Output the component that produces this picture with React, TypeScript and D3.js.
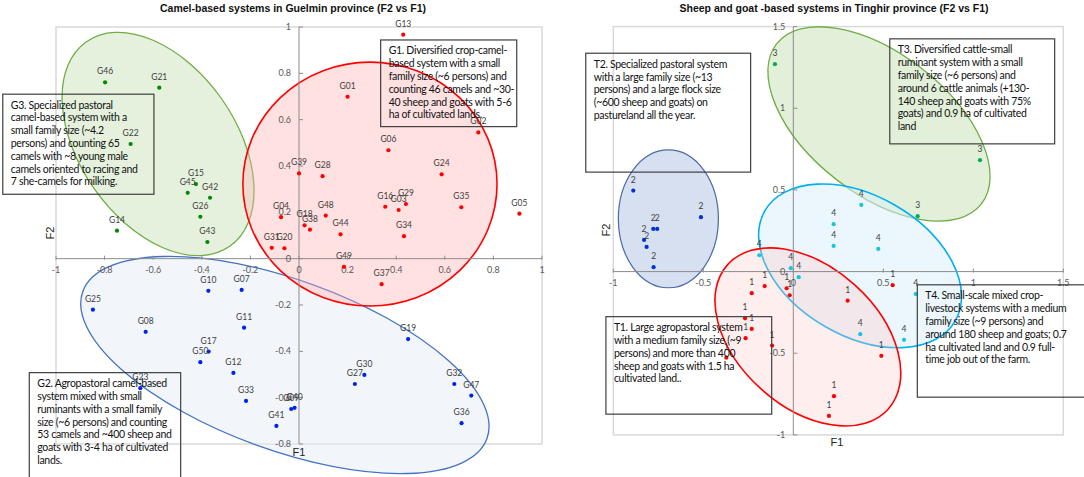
import React from 'react';
import * as d3 from 'd3';

const W = 1084;
const H = 477;

// ---------- Guelmin (left panel) ----------
const guelminTitle = 'Camel-based systems in Guelmin  province (F2 vs F1)';
const guelminXTicks = [-1, -0.8, -0.6, -0.4, -0.2, 0, 0.2, 0.4, 0.6, 0.8, 1];
const guelminYTicks = [-0.8, -0.6, -0.4, -0.2, 0, 0.2, 0.4, 0.6, 0.8, 1];

const guelminG1 = [
  { id: 'G13', f1: 0.429, f2: 0.967 },
  { id: 'G01', f1: 0.2, f2: 0.699 },
  { id: 'G02', f1: 0.738, f2: 0.545 },
  { id: 'G06', f1: 0.368, f2: 0.468 },
  { id: 'G39', f1: 0.0, f2: 0.368 },
  { id: 'G28', f1: 0.097, f2: 0.356 },
  { id: 'G24', f1: 0.587, f2: 0.364 },
  { id: 'G16', f1: 0.355, f2: 0.224 },
  { id: 'G03', f1: 0.41, f2: 0.21 },
  { id: 'G29', f1: 0.44, f2: 0.236 },
  { id: 'G35', f1: 0.668, f2: 0.222 },
  { id: 'G05', f1: 0.907, f2: 0.194 },
  { id: 'G04', f1: -0.074, f2: 0.179 },
  { id: 'G48', f1: 0.11, f2: 0.186 },
  { id: 'G18', f1: 0.023, f2: 0.144 },
  { id: 'G38', f1: 0.045, f2: 0.125 },
  { id: 'G44', f1: 0.171, f2: 0.105 },
  { id: 'G34', f1: 0.432, f2: 0.097 },
  { id: 'G31', f1: -0.112, f2: 0.047 },
  { id: 'G20', f1: -0.06, f2: 0.045 },
  { id: 'G49', f1: 0.185, f2: -0.035 },
  { id: 'G37', f1: 0.34, f2: -0.11 },
];

const guelminG2 = [
  { id: 'G10', f1: -0.373, f2: -0.139 },
  { id: 'G07', f1: -0.236, f2: -0.135 },
  { id: 'G25', f1: -0.848, f2: -0.22 },
  { id: 'G08', f1: -0.631, f2: -0.316 },
  { id: 'G11', f1: -0.226, f2: -0.298 },
  { id: 'G17', f1: -0.372, f2: -0.401 },
  { id: 'G50', f1: -0.406, f2: -0.447 },
  { id: 'G12', f1: -0.27, f2: -0.493 },
  { id: 'G23', f1: -0.653, f2: -0.559 },
  { id: 'G33', f1: -0.218, f2: -0.614 },
  { id: 'G41', f1: -0.093, f2: -0.722 },
  { id: 'G09', f1: -0.032, f2: -0.649 },
  { id: 'G40', f1: -0.018, f2: -0.644 },
  { id: 'G19', f1: 0.449, f2: -0.347 },
  { id: 'G30', f1: 0.269, f2: -0.502 },
  { id: 'G27', f1: 0.23, f2: -0.541 },
  { id: 'G32', f1: 0.639, f2: -0.541 },
  { id: 'G47', f1: 0.709, f2: -0.591 },
  { id: 'G36', f1: 0.669, f2: -0.71 },
];

const guelminG3 = [
  { id: 'G46', f1: -0.798, f2: 0.761 },
  { id: 'G21', f1: -0.575, f2: 0.738 },
  { id: 'G22', f1: -0.693, f2: 0.495 },
  { id: 'G15', f1: -0.424, f2: 0.322 },
  { id: 'G45', f1: -0.458, f2: 0.284 },
  { id: 'G42', f1: -0.366, f2: 0.263 },
  { id: 'G26', f1: -0.406, f2: 0.181 },
  { id: 'G14', f1: -0.749, f2: 0.121 },
  { id: 'G43', f1: -0.377, f2: 0.072 },
];

const guelminG1Text = [
  'G1. Diversified crop-camel-',
  'based system with a small',
  'family size (~6 persons) and',
  'counting 46 camels and ~30-',
  '40 sheep and goats with 5-6',
  'ha of cultivated lands.',
];
const guelminG2Text = [
  'G2. Agropastoral camel-based',
  'system mixed with small',
  'ruminants with a small family',
  'size (~6 persons) and counting',
  '53 camels and ~400 sheep and',
  'goats with 3-4 ha of cultivated',
  'lands.',
];
const guelminG3Text = [
  'G3. Specialized pastoral',
  'camel-based system with a',
  'small family size (~4.2',
  'persons) and counting 65',
  'camels with ~8 young male',
  'camels oriented to racing and',
  '7 she-camels for milking.',
];

// ---------- Tinghir (right panel) ----------
const tinghirTitle = 'Sheep and goat -based systems in Tinghir  province (F2 vs F1)';
const tinghirXTicks = [-1, -0.5, 0, 0.5, 1, 1.5];
const tinghirYTicks = [-1, -0.5, 0, 0.5, 1, 1.5];

const tinghirT1 = [
  { id: '1', f1: -0.159, f2: -0.089 },
  { id: '1', f1: -0.231, f2: -0.132 },
  { id: '1', f1: -0.037, f2: -0.102 },
  { id: '1', f1: -0.02, f2: -0.145 },
  { id: '1', f1: 0.302, f2: -0.178 },
  { id: '1', f1: 0.552, f2: -0.083 },
  { id: '1', f1: -0.268, f2: -0.286 },
  { id: '1', f1: -0.231, f2: -0.351 },
  { id: '1', f1: -0.265, f2: -0.408 },
  { id: '1', f1: -0.118, f2: -0.453 },
  { id: '1', f1: -0.372, f2: -0.527 },
  { id: '1', f1: 0.489, f2: -0.516 },
  { id: '1', f1: 0.226, f2: -0.763 },
  { id: '1', f1: 0.198, f2: -0.884 },
];
const tinghirT2 = [
  { id: '2', f1: -0.889, f2: 0.496 },
  { id: '2', f1: -0.513, f2: 0.333 },
  { id: '2', f1: -0.778, f2: 0.261 },
  { id: '2', f1: -0.756, f2: 0.261 },
  { id: '2', f1: -0.829, f2: 0.194 },
  { id: '2', f1: -0.815, f2: 0.151 },
  { id: '2', f1: -0.776, f2: 0.027 },
];
const tinghirT3 = [
  { id: '3', f1: -0.102, f2: 1.27 },
  { id: '3', f1: 1.037, f2: 0.682 },
  { id: '3', f1: 0.691, f2: 0.339 },
];
const tinghirT4 = [
  { id: '4', f1: 0.378, f2: 0.408 },
  { id: '4', f1: 0.224, f2: 0.29 },
  { id: '4', f1: 0.224, f2: 0.157 },
  { id: '4', f1: 0.472, f2: 0.139 },
  { id: '4', f1: -0.189, f2: 0.1 },
  { id: '4', f1: -0.014, f2: 0.021 },
  { id: '4', f1: 0.03, f2: -0.034 },
  { id: '4', f1: 0.372, f2: -0.383 },
  { id: '4', f1: 0.68, f2: -0.138 },
  { id: '4', f1: 0.615, f2: -0.418 },
];

const tinghirT1Text = [
  'T1. Large agropastoral system',
  'with a medium family size (~9',
  'persons) and more than 400',
  'sheep and goats with 1.5 ha',
  'cultivated land..',
];
const tinghirT2Text = [
  'T2. Specialized pastoral system',
  'with a large family size (~13',
  'persons) and a large flock size',
  '(~600 sheep and goats) on',
  'pastureland all the year.',
];
const tinghirT3Text = [
  'T3. Diversified cattle-small',
  'ruminant system with a small',
  'family size (~6 persons) and',
  'around 6 cattle animals (+130-',
  '140 sheep and goats with 75%',
  'goats) and 0.9 ha of cultivated',
  'land',
];
const tinghirT4Text = [
  'T4. Small-scale mixed crop-',
  'livestock systems with a medium',
  'family size (~9 persons) and',
  'around 180 sheep and goats; 0.7',
  'ha cultivated land and 0.9 full-',
  'time job out of the farm.',
];

// ---------- layout ----------
const LABEL_FONT = 'Lato, "Open Sans", sans-serif';
const TITLE_FONT = '"Liberation Sans", Arial, sans-serif';

type Pt = { id: string; f1: number; f2: number };
type Ell = { cx: number; cy: number; rx: number; ry: number; angle: number; fill: string; fillOpacity: number; stroke: string; sw: number };
type Box = { x1: number; y1: number; x2: number; y2: number; lines: string[] };

function Panel(props: {
  x: d3.ScaleLinear<number, number>;
  y: d3.ScaleLinear<number, number>;
  xTicks: number[];
  yTicks: number[];
  title: string;
  titleX: number;
  f1Pos: [number, number];
  f2Pos: [number, number];
  ellipses: Ell[];
  groups: { pts: Pt[]; color: string }[];
  boxes: Box[];
}) {
  const { x, y, xTicks, yTicks } = props;
  const [xa, xb] = x.range();
  const [yb, ya] = y.range();
  const x0 = x(0);
  const y0 = y(0);
  const k = (xb - xa) / (x.domain()[1] - x.domain()[0]);
  return (
    <g>
      <text x={props.titleX} y={12} textAnchor="middle" fontFamily={TITLE_FONT} fontWeight="bold" fontSize={10.5} fill="#111">
        {props.title}
      </text>
      <rect x={xa} y={ya} width={xb - xa} height={yb - ya} fill="none" stroke="#d9d9d9" strokeWidth={1.5} />
      {props.ellipses.map((e, i) => (
        <ellipse
          key={i}
          cx={0}
          cy={0}
          rx={e.rx * k}
          ry={e.ry * k}
          transform={`translate(${x(e.cx)},${y(e.cy)}) rotate(${e.angle})`}
          fill={e.fill}
          fillOpacity={e.fillOpacity}
          stroke={e.stroke}
          strokeWidth={e.sw}
        />
      ))}
      <line x1={xa} x2={xb} y1={y0} y2={y0} stroke="#8c8c8c" strokeWidth={1} />
      <line x1={x0} x2={x0} y1={ya} y2={yb} stroke="#8c8c8c" strokeWidth={1} />
      {xTicks.map((t) => (
        <g key={'x' + t}>
          <line x1={x(t)} x2={x(t)} y1={y0 - 3} y2={y0 + 1} stroke="#8c8c8c" />
          <text x={x(t)} y={y0 + 14} textAnchor="middle" fontFamily={LABEL_FONT} fontSize={9} fill="#595959">
            {String(t)}
          </text>
        </g>
      ))}
      {yTicks.map((t) => (
        <g key={'y' + t}>
          <line x1={x0} x2={x0 + 4} y1={y(t)} y2={y(t)} stroke="#8c8c8c" />
          <text x={x0 - 8} y={y(t) + 3} textAnchor="end" fontFamily={LABEL_FONT} fontSize={9} fill="#595959">
            {String(t)}
          </text>
        </g>
      ))}
      {props.groups.map((g, gi) => (
        <g key={gi}>
          {g.pts.map((p, i) => (
            <g key={i}>
              <circle cx={x(p.f1)} cy={y(p.f2)} r={2.1} fill={g.color} />
              <text x={x(p.f1)} y={y(p.f2) - 8} textAnchor="middle" fontFamily={LABEL_FONT} fontSize={8.5} fill="#404040">
                {p.id}
              </text>
            </g>
          ))}
        </g>
      ))}
      {props.boxes.map((b, i) => {
        const bx = x(b.x1);
        const by = y(b.y1);
        return (
          <g key={i}>
            <rect x={bx} y={by} width={x(b.x2) - bx} height={y(b.y2) - by} fill="none" stroke="#3f3f3f" strokeWidth={1.2} />
            {b.lines.map((l, j) => (
              <text key={j} x={bx + 8} y={by + 14.5 + j * 12.8} fontFamily={LABEL_FONT} fontSize={10.5} letterSpacing={-0.3} fill="#111">
                {l}
              </text>
            ))}
          </g>
        );
      })}
      <text x={props.f1Pos[0]} y={props.f1Pos[1]} textAnchor="middle" fontFamily={TITLE_FONT} fontSize={11} fill="#222">
        F1
      </text>
      <text
        transform={`translate(${props.f2Pos[0]},${props.f2Pos[1]}) rotate(-90)`}
        textAnchor="middle"
        fontFamily={TITLE_FONT}
        fontSize={11}
        fill="#222"
      >
        F2
      </text>
    </g>
  );
}

export default function App() {
  const xL = d3.scaleLinear().domain([-1, 1]).range([56, 542]);
  const yL = d3.scaleLinear().domain([-0.8, 1]).range([444, 27]);
  const xR = d3.scaleLinear().domain([-1, 1.5]).range([613.3, 1063.3]);
  const yR = d3.scaleLinear().domain([-1, 1.5]).range([434.9, 26.6]);

  const leftEllipses: Ell[] = [
    { cx: -0.058, cy: -0.459, rx: 0.885, ry: 0.35, angle: 20, fill: '#e6edf8', fillOpacity: 0.5, stroke: '#4472c4', sw: 1.3 },
    { cx: -0.58, cy: 0.495, rx: 0.514, ry: 0.321, angle: 55, fill: '#c5e0b4', fillOpacity: 0.45, stroke: '#70ad47', sw: 1.3 },
    { cx: 0.292, cy: 0.322, rx: 0.523, ry: 0.502, angle: 0, fill: '#ffb0b0', fillOpacity: 0.38, stroke: '#ff0000', sw: 1.6 },
  ];
  const rightEllipses: Ell[] = [
    { cx: -0.694, cy: 0.323, rx: 0.278, ry: 0.383, angle: 0, fill: '#d6e0f0', fillOpacity: 1, stroke: '#4a6aa5', sw: 1.2 },
    { cx: 0.476, cy: 0.904, rx: 0.722, ry: 0.389, angle: 38, fill: '#c5e0b4', fillOpacity: 0.5, stroke: '#70ad47', sw: 1.3 },
    { cx: 0.371, cy: 0.035, rx: 0.611, ry: 0.389, angle: 30, fill: '#ddf1fb', fillOpacity: 0.55, stroke: '#00b0f0', sw: 1.6 },
    { cx: 0.081, cy: -0.4, rx: 0.6, ry: 0.389, angle: 42, fill: '#ffc8c8', fillOpacity: 0.3, stroke: '#ff0000', sw: 1.6 },
  ];

  const leftBoxes: Box[] = [
    { x1: -1.219, y1: 0.71, x2: -0.597, y2: 0.278, lines: guelminG3Text },
    { x1: 0.336, y1: 0.944, x2: 0.896, y2: 0.57, lines: guelminG1Text },
    { x1: -1.11, y1: -0.492, x2: -0.487, y2: -1.0, lines: guelminG2Text },
  ];
  const rightBoxes: Box[] = [
    { x1: -1.153, y1: 1.337, x2: -0.237, y2: 0.609, lines: tinghirT2Text },
    { x1: 0.536, y1: 1.425, x2: 1.452, y2: 0.782, lines: tinghirT3Text },
    { x1: 0.689, y1: -0.081, x2: 1.704, y2: -0.769, lines: tinghirT4Text },
    { x1: -1.041, y1: -0.276, x2: -0.12, y2: -0.873, lines: tinghirT1Text },
  ];

  return (
    <div style={{ position: 'absolute', left: 0, top: 0 }}>
      <svg width={W} height={H} style={{ display: 'block', background: '#fff' }}>
        <Panel
          x={xL}
          y={yL}
          xTicks={guelminXTicks}
          yTicks={guelminYTicks}
          title={guelminTitle}
          titleX={293}
          f1Pos={[299, 456]}
          f2Pos={[54, 233]}
          ellipses={leftEllipses}
          groups={[
            { pts: guelminG3, color: '#008a00' },
            { pts: guelminG1, color: '#ff0000' },
            { pts: guelminG2, color: '#0022ee' },
          ]}
          boxes={leftBoxes}
        />
        <Panel
          x={xR}
          y={yR}
          xTicks={tinghirXTicks}
          yTicks={tinghirYTicks}
          title={tinghirTitle}
          titleX={834}
          f1Pos={[837, 446]}
          f2Pos={[610, 230]}
          ellipses={rightEllipses}
          groups={[
            { pts: tinghirT2, color: '#0033cc' },
            { pts: tinghirT3, color: '#00b050' },
            { pts: tinghirT4, color: '#17c5dc' },
            { pts: tinghirT1, color: '#ff0000' },
          ]}
          boxes={rightBoxes}
        />
      </svg>
    </div>
  );
}
